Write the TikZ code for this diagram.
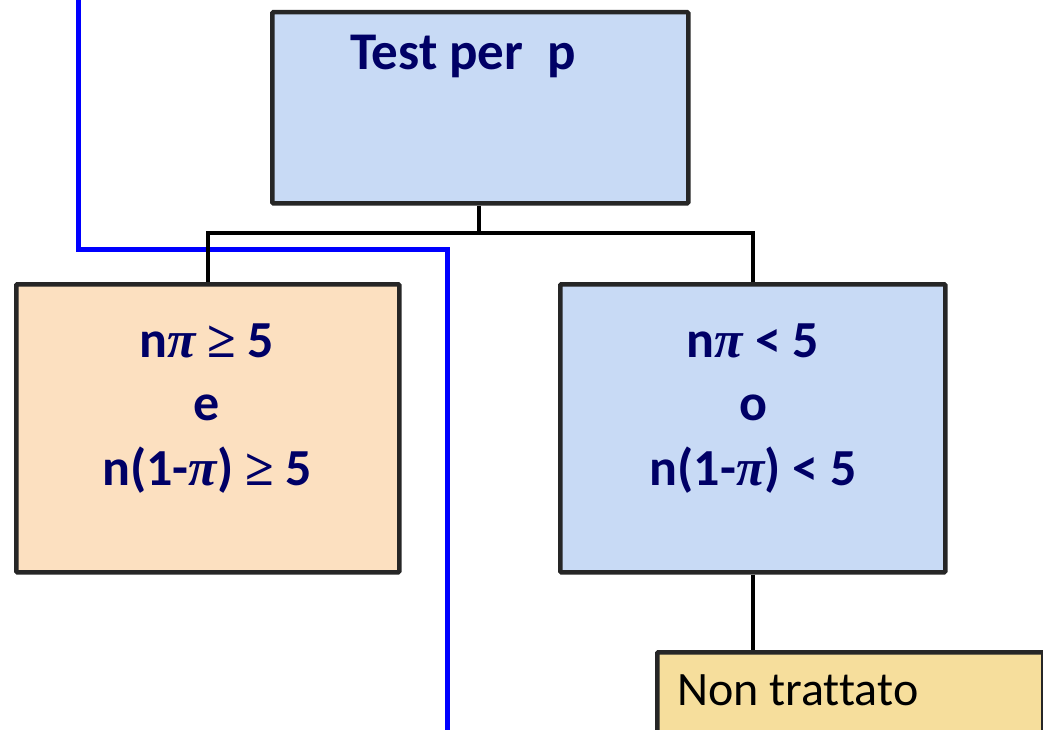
\documentclass[tikz,border=0pt]{standalone}
\usepackage{fontspec}
\setmainfont[Ligatures=NoCommon]{Carlito}
\newfontfamily\symfont{Liberation Serif}
\definecolor{navy}{RGB}{0,0,102}
\definecolor{boxblue}{RGB}{200,218,245}
\definecolor{boxpeach}{RGB}{252,224,192}
\definecolor{boxyellow}{RGB}{246,222,156}
\definecolor{pathblue}{RGB}{0,0,255}
\newcommand{\mypi}{{\symfont\bfseries\itshape π}}
\newcommand{\myge}{{\symfont ≥}}
\begin{document}
\begin{tikzpicture}[x=1pt,y=-1pt,
  box/.style={draw=black!85, line width=4.5pt, rounded corners=1pt, inner sep=0pt, anchor=north west},
  cond/.style={font=\fontsize{52}{60}\selectfont\bfseries, text=navy, anchor=base, inner sep=0pt},
  conn/.style={line width=4.5pt, black},
  bluepath/.style={line width=5pt, pathblue}]
\useasboundingbox (0,0) rectangle (1043,730);
\clip (0,0) rectangle (1043,730);
% blue path
\coordinate (b0) at (78,-5);
\coordinate (b1) at (78,249);
\coordinate (b2) at (447,249);
\coordinate (b3) at (447,740);
\draw[bluepath] (b0) -- (b1) -- (b2) -- (b3);
% boxes
\node[box, fill=boxblue, minimum width=416pt, minimum height=191pt] (top) at (270,10) {};
\node[box, fill=boxpeach, minimum width=383pt, minimum height=288pt] (left) at (14,282) {};
\node[box, fill=boxblue, minimum width=385pt, minimum height=288pt] (right) at (558,282) {};
\node[box, fill=boxyellow, minimum width=386pt, minimum height=120pt] (bottom) at (655,650) {};
% connectors
\coordinate (j) at (479,233);
\draw[conn] (top.south -| j) -- (j);
\draw[conn] (left.north) |- (j) -| (right.north);
\draw[conn] (right.south) -- (right.south |- bottom.north);
% texts
\node[cond, font=\fontsize{53}{60}\selectfont\bfseries] (ttop) at (463,70) {Test per\ \ p};
\node[cond] (l1) at (207,357) {n\mypi\ \myge\ 5};
\node[cond] (l2) at (207,420) {e};
\node[cond] (l3) at (207,485) {n(1-\mypi)\ \myge\ 5};
\node[cond] (r1) at (753,357) {n\mypi\ < 5};
\node[cond] (r2) at (753,420) {o};
\node[cond] (r3) at (753,485) {n(1-\mypi)\ < 5};
\node[anchor=base west, inner sep=0pt, font=\fontsize{48}{58}\selectfont, text=black] (nt) at (677,705) {Non trattato};
\end{tikzpicture}
\end{document}
